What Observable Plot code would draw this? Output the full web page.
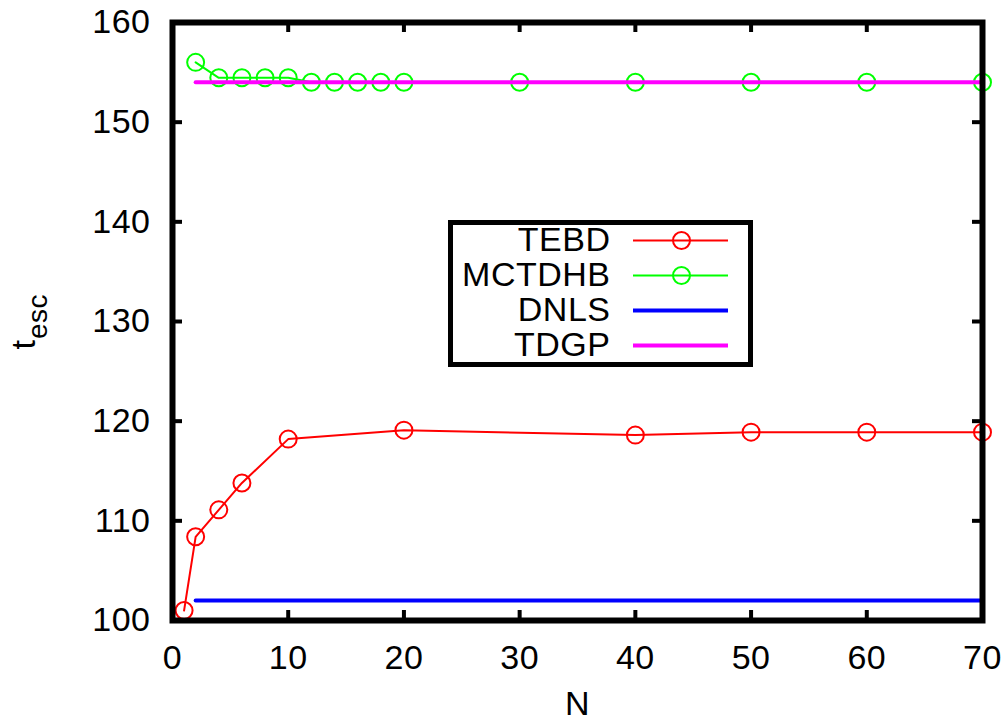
<!DOCTYPE html>
<html><head><meta charset="utf-8">
<script src="https://cdn.jsdelivr.net/npm/d3@7"></script>
<script src="https://cdn.jsdelivr.net/npm/@observablehq/plot@0.6"></script>
<style>
body{margin:0;background:#fff;}
#wrap{position:relative;width:1008px;height:722px;}
#legend{position:absolute;left:445px;top:217px;}
svg{overflow:visible;}
</style></head><body><div id="wrap"><div id="main"></div><div id="legend"></div></div>
<script>
// ---- data ----
const tebdN = [1, 2, 4, 6, 10, 20, 40, 50, 60, 70];
const tebdT = [101.0, 108.4, 111.1, 113.8, 118.2, 119.1, 118.6, 118.9, 118.9, 118.9];
const mctdhbN = [2, 4, 6, 8, 10, 12, 14, 16, 18, 20, 30, 40, 50, 60, 70];
const mctdhbT = [156.0, 154.45, 154.45, 154.45, 154.45, 154.0, 154.0, 154.0, 154.0, 154.0, 154.0, 154.0, 154.0, 154.0, 154.0];
const dnlsN = [2, 70];
const dnlsT = [102.0, 102.0];
const tdgpN = [2, 70];
const tdgpT = [154.0, 154.0];
const xTicks = [0, 10, 20, 30, 40, 50, 60, 70];
const yTicks = [100, 110, 120, 130, 140, 150, 160];
const seriesNames = ["TEBD", "MCTDHB", "DNLS", "TDGP"];
const seriesColors = ["#ff0000", "#00ff00", "#0000ff", "#ff00ff"];
const xLabel = "N";
const yLabelMain = "t";
const yLabelSub = "esc";

// ---- helpers ----
const zip = (xs, ys) => xs.map((x, i) => ({N: x, t: ys[i]}));
const tebd = zip(tebdN, tebdT);
const mctdhb = zip(mctdhbN, mctdhbT);
const dnls = zip(dnlsN, dnlsT);
const tdgp = zip(tdgpN, tdgpT);

const FONT = "'Liberation Sans', Arial, Helvetica, sans-serif";
const FS = 34;
const W = 1008, H = 722, ML = 172, MR = 26, MT = 22, MB = 102;
const PW = W - ML - MR, PH = H - MT - MB;
const TICK = 10;

const chart = Plot.plot({
  width: W, height: H,
  marginLeft: ML, marginRight: MR, marginTop: MT, marginBottom: MB,
  style: {fontFamily: FONT, fontSize: FS + "px", color: "#000", background: "#fff", letterSpacing: "0.5px", overflow: "visible"},
  x: {domain: [0, 70]},
  y: {domain: [100, 160]},
  marks: [
    Plot.axisX(xTicks, {anchor: "bottom", tickSize: 0, tickPadding: 24, label: null, fontSize: FS}),
    Plot.axisY(yTicks, {anchor: "left", tickSize: 0, tickPadding: 22, label: null, fontSize: FS}),
    Plot.text([xLabel], {text: d => d, frameAnchor: "bottom", lineAnchor: "bottom", dy: 94, fontSize: FS}),
    Plot.text([yLabelMain], {text: d => d, frameAnchor: "left", rotate: -90, lineAnchor: "bottom", textAnchor: "middle", dx: -138, dy: 23, fontSize: FS}),
    Plot.text([yLabelSub], {text: d => d, frameAnchor: "left", rotate: -90, lineAnchor: "bottom", textAnchor: "middle", dx: -126, dy: -5, fontSize: 28}),
    // inward ticks (bottom, top, left, right)
    Plot.ruleX(xTicks, {x: d => d, stroke: "#000", strokeWidth: 4, insetTop: PH - TICK}),
    Plot.ruleX(xTicks, {x: d => d, stroke: "#000", strokeWidth: 4, insetBottom: PH - TICK}),
    Plot.ruleY(yTicks, {y: d => d, stroke: "#000", strokeWidth: 4, insetRight: PW - TICK}),
    Plot.ruleY(yTicks, {y: d => d, stroke: "#000", strokeWidth: 4, insetLeft: PW - TICK}),
    // series
    Plot.line(tebd, {x: "N", y: "t", stroke: seriesColors[0], strokeWidth: 2}),
    Plot.dot(tebd, {x: "N", y: "t", r: 8.5, stroke: seriesColors[0], strokeWidth: 2, fill: "none"}),
    Plot.line(mctdhb, {x: "N", y: "t", stroke: seriesColors[1], strokeWidth: 2}),
    Plot.dot(mctdhb, {x: "N", y: "t", r: 8.5, stroke: seriesColors[1], strokeWidth: 2, fill: "none"}),
    Plot.line(dnls, {x: "N", y: "t", stroke: seriesColors[2], strokeWidth: 4}),
    Plot.line(tdgp, {x: "N", y: "t", stroke: seriesColors[3], strokeWidth: 4}),
    Plot.frame({stroke: "#000", strokeWidth: 6})
  ]
});
document.getElementById("main").appendChild(chart);

// ---- legend ----
const legendRows = seriesNames.map((name, i) => ({name, color: seriesColors[i], marker: i < 2, width: i < 2 ? 2 : 4}));
const legend = Plot.plot({
  width: 310, height: 152,
  margin: 5,
  style: {fontFamily: FONT, fontSize: FS + "px", color: "#000", background: "transparent", letterSpacing: "0.5px", overflow: "visible"},
  x: {domain: [0, 300], axis: null},
  y: {type: "point", domain: seriesNames, range: [22, 129.5], padding: 0, axis: null},
  marks: [
    Plot.frame({fill: "#fff", stroke: "#000", strokeWidth: 5}),
    Plot.text(legendRows, {x: () => 160, y: "name", text: "name", textAnchor: "end", lineHeight: 1, fontSize: FS}),
    Plot.ruleY(legendRows, {y: "name", x1: () => 183, x2: () => 278, stroke: "color", strokeWidth: "width"}),
    Plot.dot(legendRows.filter(d => d.marker), {x: () => 231, y: "name", r: 8.5, stroke: "color", strokeWidth: 2, fill: "none"})
  ]
});
document.getElementById("legend").appendChild(legend);
</script>
</body></html>
